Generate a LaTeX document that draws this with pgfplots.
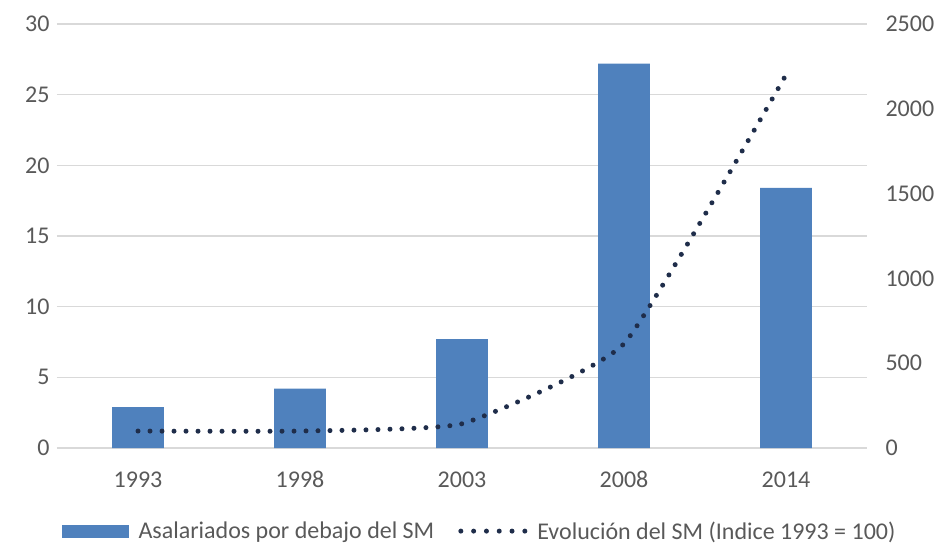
\documentclass[border=0pt]{standalone}
\usepackage{pgfplots}
\pgfplotsset{compat=1.18}
\usepackage{fontspec}
\setmainfont{Carlito}
\definecolor{barblue}{HTML}{4F81BD}
\definecolor{dotnavy}{HTML}{1F2D4A}
\definecolor{txtgray}{HTML}{595959}
\definecolor{gridgray}{HTML}{D9D9D9}
\newcommand{\lbl}{\fontsize{24bp}{29bp}\selectfont}

\begin{document}
\begin{tikzpicture}
\pgfplotsset{
  every axis/.append style={
    scale only axis, width=810bp, height=424bp,
    xmin=-0.5, xmax=4.5,
    ymin=0,
    /pgf/number format/assume math mode=true,
    /pgf/number format/1000 sep={},
    ticklabel style={font=\lbl, text=txtgray},
    major tick length=0pt,
    axis line style={draw=none},
  }
}
\begin{axis}[
  ymax=30, ytick={0,5,...,30},
  xtick={0,1,2,3,4},
  xticklabels={1993,1998,2003,2008,2014},
  ymajorgrids, grid style={gridgray, line width=1.4bp},
  xticklabel style={anchor=base, yshift=-39bp},
  yticklabel style={xshift=-4bp},
]
\addplot[ybar, bar width=0.32, fill=barblue, draw=none] coordinates {
  (0,2.9) (1,4.2) (2,7.7) (3,27.2) (4,18.4)
};
\end{axis}
\begin{axis}[
  ymax=2500, ytick={0,500,...,2500},
  yticklabel pos=right,
  xtick=\empty,
  yticklabel style={anchor=west, xshift=15bp},
  legend style={at={(0.522,-0.196)}, anchor=center, legend columns=2,
    draw=none, fill=none, font=\lbl, text=txtgray,
    /tikz/every odd column/.append style={column sep=8bp},
    /tikz/every even column/.append style={column sep=22bp}},
  legend cell align=left,
]
\addlegendimage{legend image code/.code={\fill[barblue] (0bp,-6bp) rectangle (66bp,6bp);}}
\addlegendentry{Asalariados por debajo del SM}
\addplot[smooth, tension=0.25, dotnavy, line width=5bp, line cap=round, dash pattern=on 0bp off 12bp,
  legend image code/.code={\draw[dotnavy, line width=5bp, line cap=round, dash pattern=on 0bp off 12.8bp] (0bp,0bp) -- (64bp,0bp);}]
  coordinates {(0,100) (1,100) (2,143) (3,615) (4,2200)};
\addlegendentry{Evolución del SM (Indice 1993 = 100)}
\end{axis}
\path ([shift={(-57bp,-99bp)}]current axis.south west) rectangle ([shift={(74bp,24bp)}]current axis.north east);
\end{tikzpicture}
\end{document}
